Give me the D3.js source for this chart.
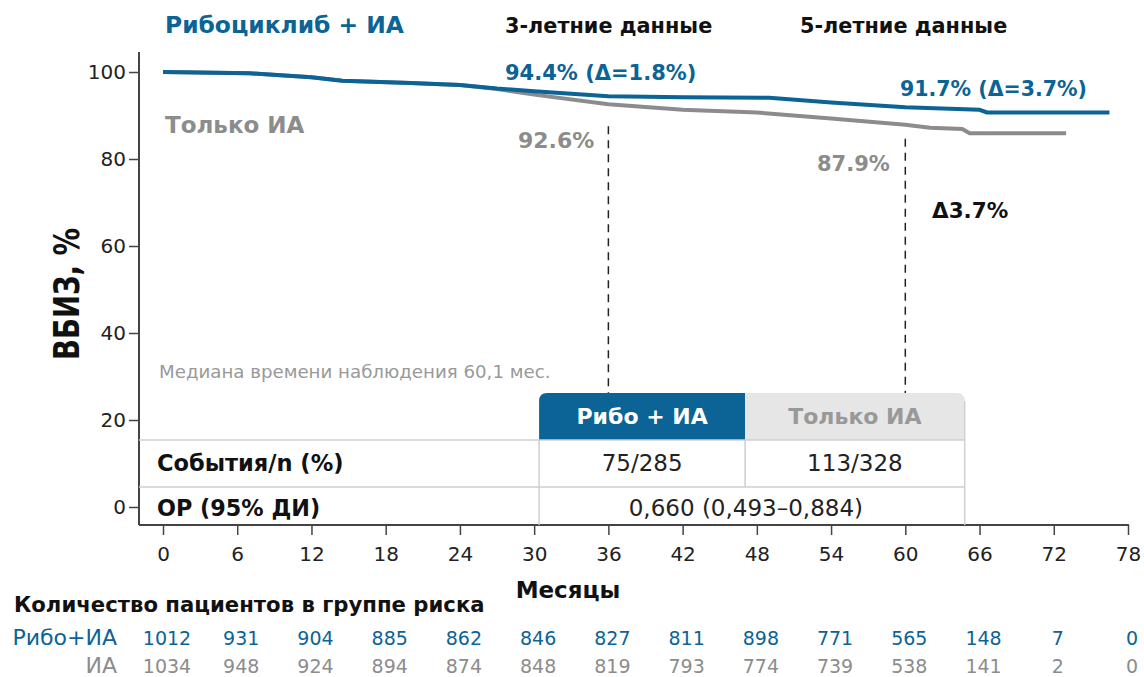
<!DOCTYPE html>
<html>
<head>
<meta charset="utf-8">
<script src="https://cdn.jsdelivr.net/npm/d3@7"></script>
<style>
  body { margin: 0; background: #fff; }
  text { font-family: "DejaVu Sans", sans-serif; }
</style>
</head>
<body>
<div id="chart"></div>
<script>
// curve data (months, % event-free)
var riboMonths = [0, 7, 12, 14.5, 20, 24, 27, 30, 36, 42, 49, 54, 60, 66, 66.6, 76.5]
var riboValues = [100, 99.7, 98.8, 98.0, 97.5, 97.0, 96.2, 95.6, 94.4, 94.2, 94.1, 93.0, 91.9, 91.3, 90.7, 90.7]
var aiMonths = [0, 7, 12, 14.5, 20, 24, 27, 30, 36, 42, 48, 54, 60, 62, 64.6, 65.2, 73]
var aiValues = [100, 99.7, 98.8, 98.0, 97.5, 97.0, 96.1, 94.8, 92.6, 91.3, 90.7, 89.3, 87.9, 87.2, 86.9, 85.9, 85.9]

// at risk table
var riskMonths = [0, 6, 12, 18, 24, 30, 36, 42, 48, 54, 60, 66, 72, 78]
var riskRibo = [1012, 931, 904, 885, 862, 846, 827, 811, 898, 771, 565, 148, 7, 0]
var riskAI = [1034, 948, 924, 894, 874, 848, 819, 793, 774, 739, 538, 141, 2, 0]

var xTicks = d3.range(0, 79, 6)
var yTicks = [0, 20, 40, 60, 80, 100]

var blue = "#0b6396", grey = "#8c8c8c", lineGrey = "#cfcfcf"

var svg = d3.select("#chart")
    .append("svg")
    .attr("width", 1144)
    .attr("height", 677)

var x = d3.scaleLinear().domain([0, 78]).range([163, 1128])
var y = d3.scaleLinear().domain([-4.14, 104.6]).range([525, 52])
var axisLeftX = 139

// Y axis
var yAxis = svg.append("g")
    .attr("transform", `translate(${axisLeftX},0)`)
    .call(d3.axisLeft(y).tickValues(yTicks).tickSize(10).tickPadding(3).tickSizeOuter(0))
yAxis.select(".domain").remove()
yAxis.selectAll("line").attr("stroke", "#444").attr("stroke-width", 1.5)
yAxis.selectAll("text").attr("font-family", "DejaVu Sans").attr("font-size", 20).attr("fill", "#222")
svg.append("line").attr("x1", axisLeftX).attr("x2", axisLeftX).attr("y1", 52).attr("y2", 525)
    .attr("stroke", "#444").attr("stroke-width", 2)

// X axis
var xAxis = svg.append("g")
    .attr("transform", `translate(0,525)`)
    .call(d3.axisBottom(x).tickValues(xTicks).tickSize(10).tickSizeOuter(0))
xAxis.select(".domain").remove()
xAxis.selectAll("line").attr("stroke", "#444").attr("stroke-width", 1.5)
xAxis.selectAll("text").attr("font-family", "DejaVu Sans").attr("font-size", 20).attr("fill", "#222").attr("dy", "1.15em")
svg.append("line").attr("x1", axisLeftX).attr("x2", x(78) + 1).attr("y1", 525).attr("y2", 525)
    .attr("stroke", "#444").attr("stroke-width", 2)

// axis titles
svg.append("text")
    .attr("transform", "translate(79,294) rotate(-90) scale(1,1.3)")
    .attr("text-anchor", "middle")
    .attr("font-size", 27.5).attr("font-weight", 700).attr("fill", "#111")
    .text("ВБИЗ, %")
svg.append("text")
    .attr("x", 568).attr("y", 598)
    .attr("text-anchor", "middle")
    .attr("font-size", 23).attr("font-weight", 700).attr("fill", "#111")
    .text("Месяцы")

// table inside plot
var colA = x(30.4), colB = x(47.05), colC = x(64.8)
var hTop = 393, row1 = 440, row2 = 487, row3 = 525
var r = 8
svg.append("path")
    .attr("d", `M${colA},${row1} V${hTop + r} Q${colA},${hTop} ${colA + r},${hTop} H${colB} V${row1} Z`)
    .attr("fill", blue)
svg.append("path")
    .attr("d", `M${colB},${row1} V${hTop} H${colC - r} Q${colC},${hTop} ${colC},${hTop + r} V${row1} Z`)
    .attr("fill", "#e6e6e6")
svg.append("text").attr("x", (colA + colB) / 2).attr("y", 424).attr("text-anchor", "middle")
    .attr("font-size", 22).attr("font-weight", 700).attr("fill", "#fff").text("Рибо + ИА")
svg.append("text").attr("x", (colB + colC) / 2).attr("y", 424).attr("text-anchor", "middle")
    .attr("font-size", 22).attr("font-weight", 700).attr("fill", "#999").text("Только ИА")

var tl = svg.append("g").attr("stroke", lineGrey).attr("stroke-width", 1.5)
tl.append("line").attr("x1", axisLeftX).attr("x2", colC).attr("y1", row1).attr("y2", row1)
tl.append("line").attr("x1", axisLeftX).attr("x2", colC).attr("y1", row2).attr("y2", row2)
tl.append("line").attr("x1", colA).attr("x2", colA).attr("y1", row1).attr("y2", row3)
tl.append("line").attr("x1", colB).attr("x2", colB).attr("y1", row1).attr("y2", row2)
tl.append("line").attr("x1", colC).attr("x2", colC).attr("y1", hTop + r).attr("y2", row3)

svg.append("text").attr("x", 157).attr("y", 471)
    .attr("font-size", 22.5).attr("font-weight", 700).attr("fill", "#111")
    .text("События/n (%)")
svg.append("text").attr("x", 157).attr("y", 516)
    .attr("font-size", 22.3).attr("font-weight", 700).attr("fill", "#111")
    .text("ОР (95% ДИ)")
svg.append("text").attr("x", (colA + colB) / 2).attr("y", 471).attr("text-anchor", "middle")
    .attr("font-size", 23).attr("fill", "#222").text("75/285")
svg.append("text").attr("x", (colB + colC) / 2).attr("y", 471).attr("text-anchor", "middle")
    .attr("font-size", 23).attr("fill", "#222").text("113/328")
svg.append("text").attr("x", (colA + colC) / 2 - 6).attr("y", 516).attr("text-anchor", "middle")
    .attr("font-size", 23).attr("fill", "#222").text("0,660 (0,493–0,884)")

svg.append("text").attr("x", 159).attr("y", 378)
    .attr("font-size", 18.2).attr("fill", "#999")
    .text("Медиана времени наблюдения 60,1 мес.")

// dashed markers at 3 and 5 years
svg.append("line").attr("x1", x(36)).attr("x2", x(36)).attr("y1", y(92.6) + 22).attr("y2", hTop)
    .attr("stroke", "#222").attr("stroke-width", 1.5).attr("stroke-dasharray", "8,6")
svg.append("line").attr("x1", x(60)).attr("x2", x(60)).attr("y1", y(87.9) + 14).attr("y2", hTop)
    .attr("stroke", "#222").attr("stroke-width", 1.5).attr("stroke-dasharray", "8,6")

// curves
var line = d3.line().x(d => x(d[0])).y(d => y(d[1]))
svg.append("path")
    .datum(d3.zip(aiMonths, aiValues))
    .attr("d", line).attr("fill", "none").attr("stroke", grey).attr("stroke-width", 4)
svg.append("path")
    .datum(d3.zip(riboMonths, riboValues))
    .attr("d", line).attr("fill", "none").attr("stroke", blue).attr("stroke-width", 4)

// labels
function label(tx, ty, txt, color, size) {
    svg.append("text").attr("x", tx).attr("y", ty)
        .attr("font-size", size).attr("font-weight", 700).attr("fill", color)
        .text(txt)
}
label(165, 33, "Рибоциклиб + ИА", blue, 23.4)
label(505, 33, "3-летние данные", "#111", 20.8)
label(800, 33, "5-летние данные", "#111", 20.8)
label(505, 80, "94.4% (Δ=1.8%)", blue, 21)
label(165, 133, "Только ИА", grey, 23)
label(518, 148, "92.6%", grey, 22)
label(900, 96, "91.7% (Δ=3.7%)", blue, 20.5)
label(817, 171, "87.9%", grey, 21)
label(932, 218, "Δ3.7%", "#111", 21.5)

// patients at risk
svg.append("text").attr("x", 14).attr("y", 612)
    .attr("font-size", 21.2).attr("font-weight", 700).attr("fill", "#111")
    .text("Количество пациентов в группе риска")
svg.append("text").attr("x", 117).attr("y", 645).attr("text-anchor", "end")
    .attr("font-size", 22).attr("fill", blue).text("Рибо+ИА")
svg.append("text").attr("x", 117).attr("y", 673).attr("text-anchor", "end")
    .attr("font-size", 22).attr("fill", grey).text("ИА")
svg.append("g").selectAll("text")
    .data(d3.zip(riskMonths, riskRibo))
    .join("text")
    .attr("x", d => x(d[0]) + 4).attr("y", 645).attr("text-anchor", "middle")
    .attr("font-family", "Liberation Sans").attr("font-size", 19).attr("fill", blue)
    .text(d => d[1])
svg.append("g").selectAll("text")
    .data(d3.zip(riskMonths, riskAI))
    .join("text")
    .attr("x", d => x(d[0]) + 4).attr("y", 673).attr("text-anchor", "middle")
    .attr("font-family", "Liberation Sans").attr("font-size", 19).attr("fill", grey)
    .text(d => d[1])
</script>
</body>
</html>
